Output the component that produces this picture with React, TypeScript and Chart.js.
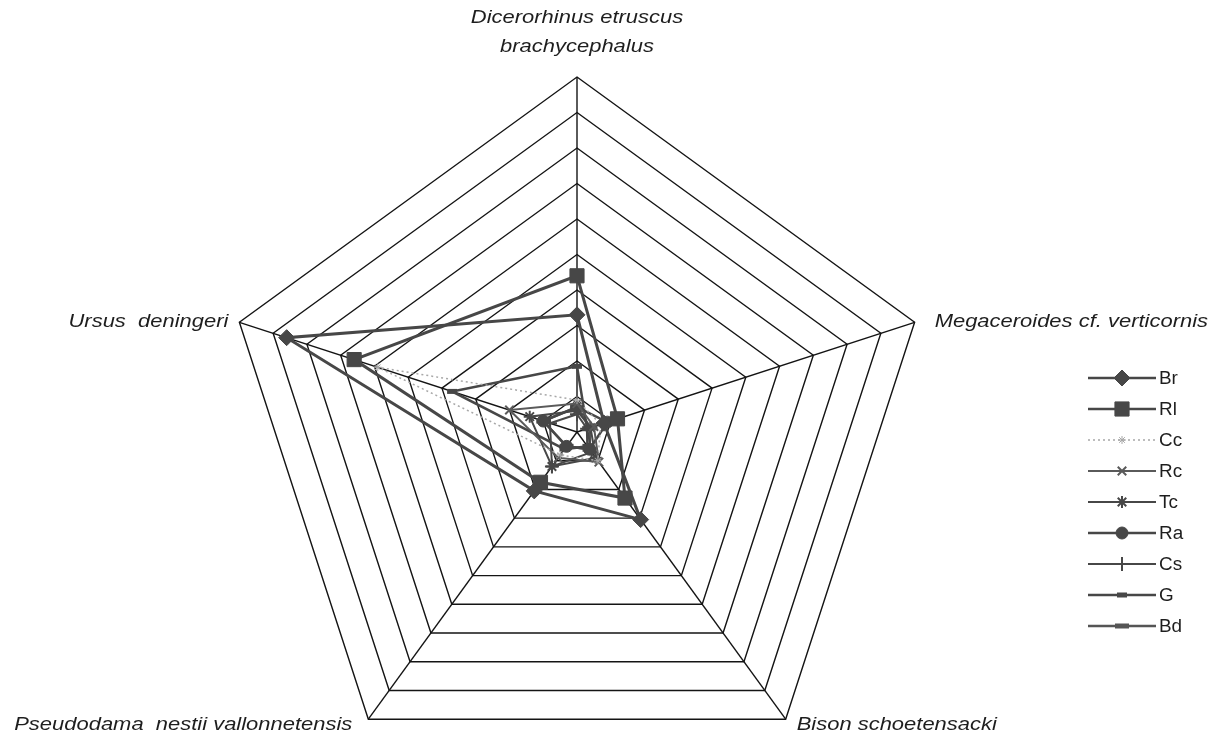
import React, { useEffect, useRef } from 'react';
import { Chart, registerables, PointElement } from 'chart.js';

Chart.register(...registerables);

// ---- data ----
const categories = [
  'Dicerorhinus etruscus brachycephalus',
  'Megaceroides cf. verticornis',
  'Bison schoetensacki',
  'Pseudodama  nestii vallonnetensis',
  'Ursus  deningeri',
];
const categoryLines = [
  ['Dicerorhinus etruscus', 'brachycephalus'],
  ['Megaceroides cf. verticornis'],
  ['Bison schoetensacki'],
  ['Pseudodama  nestii vallonnetensis'],
  ['Ursus  deningeri'],
];
const seriesNames = ['Br', 'Rl', 'Cc', 'Rc', 'Tc', 'Ra', 'Cs', 'G', 'Bd'];
const brValues = [3.3, 0.8, 3.05, 2.05, 8.6];
const rlValues = [4.4, 1.2, 2.3, 1.75, 6.6];
const ccValues = [0.9, 0.7, 1.0, 0.8, 5.9];
const rcValues = [0.8, 0.5, 1.05, 0.9, 2.0];
const tcValues = [0.6, 0.4, 0.9, 1.2, 1.4];
const raValues = [0.7, 0.9, 0.6, 0.5, 1.0];
const csValues = [0.5, 0.3, 0.7, 1.2, 0.8];
const gValues = [1.85, 0.3, 0.5, 0.6, 3.7];
const bdValues = [0.7, 0.4, 0.6, 0.5, 1.0];
const seriesValues = [brValues, rlValues, ccValues, rcValues, tcValues, raValues, csValues, gValues, bdValues];
const scaleMin = 0;
const scaleMax = 10;
const scaleStep = 1;

// ---- styles ----
const DARK = '#474747';
const seriesStyles = [
  { pointStyle: 'rectRot', radius: 8, lineWidth: 3, color: DARK, dash: [] as number[], pbw: 1 },
  { pointStyle: 'rect', radius: 10, lineWidth: 3, color: DARK, dash: [], pbw: 1 },
  { pointStyle: 'star', radius: 4, lineWidth: 1.5, color: '#a8a8a8', dash: [2, 3], pbw: 1 },
  { pointStyle: 'crossRot', radius: 6, lineWidth: 2, color: '#5a5a5a', dash: [], pbw: 2 },
  { pointStyle: 'star', radius: 6, lineWidth: 2, color: DARK, dash: [], pbw: 2 },
  { pointStyle: 'circle', radius: 6, lineWidth: 2.5, color: DARK, dash: [], pbw: 1 },
  { pointStyle: 'cross', radius: 7, lineWidth: 2, color: DARK, dash: [], pbw: 2 },
  { pointStyle: 'line', radius: 5, lineWidth: 2.5, color: DARK, dash: [], pbw: 5 },
  { pointStyle: 'line', radius: 7, lineWidth: 2.5, color: '#555555', dash: [], pbw: 5 },
];

const CENTER_X = 577;
const CENTER_Y = 432;
const RADIUS = 355;
const TEXT_STRETCH = 1.22;

const labelSpecs = [
  { dx: 0, dy: -59, align: 'center', gap: 29 },
  { dx: 20, dy: 0, align: 'left', gap: 0 },
  { dx: 11, dy: 6, align: 'left', gap: 0 },
  { dx: -16, dy: 6, align: 'right', gap: 0 },
  { dx: -11, dy: 0, align: 'right', gap: 0 },
];

const legendLayout = { x0: 1088, x1: 1156, textX: 1159, y0: 378, gap: 31 };

const decorPlugin = {
  id: 'decor',
  afterDraw(chart: any) {
    const scale = chart.scales.r;
    const ctx: CanvasRenderingContext2D = chart.ctx;
    ctx.save();
    ctx.fillStyle = '#1e1e1e';
    ctx.font = 'italic 18px "Liberation Sans", Arial, sans-serif';
    ctx.textBaseline = 'middle';
    labelSpecs.forEach((spec, i) => {
      const p = scale.getPointPosition(i, scale.drawingArea);
      categoryLines[i].forEach((line, j) => {
        ctx.save();
        ctx.translate(p.x + spec.dx, p.y + spec.dy + j * spec.gap);
        ctx.scale(TEXT_STRETCH, 1);
        ctx.textAlign = spec.align as CanvasTextAlign;
        ctx.fillText(line, 0, 0);
        ctx.restore();
      });
    });
    // legend
    ctx.font = '18px "Liberation Sans", Arial, sans-serif';
    ctx.textAlign = 'left';
    seriesNames.forEach((name, i) => {
      const st = seriesStyles[i];
      const y = legendLayout.y0 + i * legendLayout.gap;
      ctx.save();
      ctx.strokeStyle = st.color;
      ctx.lineWidth = Math.min(st.lineWidth, 2.5);
      ctx.setLineDash(st.dash);
      ctx.beginPath();
      ctx.moveTo(legendLayout.x0, y);
      ctx.lineTo(legendLayout.x1, y);
      ctx.stroke();
      ctx.restore();
      const pt: any = new PointElement({});
      pt.x = (legendLayout.x0 + legendLayout.x1) / 2;
      pt.y = y;
      pt.options = {
        pointStyle: st.pointStyle,
        radius: st.radius,
        rotation: 0,
        borderWidth: st.pbw,
        borderColor: st.color,
        backgroundColor: st.color,
      };
      ctx.save();
      pt.draw(ctx);
      ctx.restore();
      ctx.fillStyle = '#1e1e1e';
      ctx.save();
      ctx.translate(legendLayout.textX, y + 1);
      ctx.scale(1.05, 1);
      ctx.fillText(name, 0, 0);
      ctx.restore();
    });
    ctx.restore();
  },
};

export default function App() {
  const canvasRef = useRef<HTMLCanvasElement | null>(null);

  useEffect(() => {
    if (!canvasRef.current) return;
    const datasets = seriesNames.map((name, i) => {
      const st = seriesStyles[i];
      return {
        label: name,
        data: seriesValues[i],
        borderColor: st.color,
        borderWidth: st.lineWidth,
        borderDash: st.dash,
        fill: false,
        tension: 0,
        pointStyle: st.pointStyle,
        pointRadius: st.radius,
        pointBorderWidth: st.pbw,
        pointBorderColor: st.color,
        pointBackgroundColor: st.color,
      };
    });
    const chart = new Chart(canvasRef.current, {
      type: 'radar',
      data: { labels: categories, datasets },
      options: {
        animation: false,
        responsive: false,
        layout: { padding: 0 },
        plugins: { legend: { display: false }, tooltip: { enabled: false } },
        elements: { line: { borderJoinStyle: 'miter' } },
        scales: {
          r: {
            min: scaleMin,
            max: scaleMax,
            startAngle: 0,
            ticks: { display: false, stepSize: scaleStep },
            pointLabels: { display: false },
            grid: { color: '#141414', lineWidth: 1.4, circular: false },
            angleLines: { display: true, color: '#141414', lineWidth: 1.4 },
            afterFit: (scale: any) => {
              scale.xCenter = CENTER_X;
              scale.yCenter = CENTER_Y;
              scale.drawingArea = RADIUS;
            },
          },
        },
      } as any,
      plugins: [decorPlugin],
    });
    return () => chart.destroy();
  }, []);

  return (
    <div style={{ position: 'absolute', left: 0, top: 0, width: 1217, height: 738, background: '#fff' }}>
      <canvas ref={canvasRef} width={1217} height={738} style={{ display: 'block' }} />
    </div>
  );
}
